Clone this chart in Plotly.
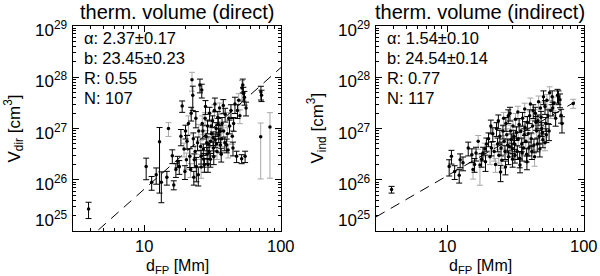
import numpy as np
import plotly.graph_objects as go

# ---------------- data ----------------
# left panel: thermal volume (direct)
d_dir = [3.9, 10.3, 11.3, 12.2, 12.9, 13.3, 14.6, 15.0, 16.0, 16.4,
         17.5, 18.0, 18.9, 19.8, 20.3, 20.5, 21.5, 22.3, 22.6, 22.8,
         23.2, 23.5, 24.0, 24.5, 25.0, 25.5, 26.3, 26.0, 26.5, 27.0,
         27.5, 28.0, 28.3, 28.8, 29.0, 29.5, 30.0, 30.4, 31.0, 31.5,
         32.0, 32.5, 33.0, 33.5, 34.0, 34.5, 35.0, 35.5, 36.0, 37.0,
         38.0, 39.0, 40.0, 41.0, 42.0, 43.0, 44.0, 47.3, 48.0, 49.0,
         51.5, 51.8, 53.0, 54.0, 54.6, 71.3, 72.0, 71.0, 83.0, 21.0,
         22.0, 23.8, 24.8, 25.8, 26.8, 27.8, 28.6, 29.8, 30.8, 31.8,
         32.8, 33.8, 34.8, 35.8, 36.8, 37.8, 38.8, 41.5, 45.0, 46.0,
         50.0, 52.5, 55.5, 19.5, 18.5, 20.0, 17.0, 21.8, 23.0, 26.0,
         27.2, 29.2, 30.5, 32.2, 36.5, 40.5, 44.5]
log_v_dir = [25.43, 26.26, 25.95, 26.10, 26.74, 25.95, 26.05, 27.00, 26.47, 25.90,
             26.36, 26.26, 27.44, 26.16, 26.39, 26.75, 26.46, 27.95, 27.65, 26.80,
             26.39, 26.55, 26.26, 26.72, 26.95, 27.85, 27.75, 26.46, 27.10, 26.60,
             26.30, 27.43, 26.85, 26.50, 27.05, 26.70, 27.30, 26.40, 26.90, 27.15,
             26.62, 27.35, 26.78, 27.00, 26.55, 27.22, 26.88, 27.40, 26.68, 27.10,
             26.95, 27.28, 26.68, 26.58, 27.05, 27.35, 26.85, 26.46, 27.35, 27.55,
             26.41, 27.79, 27.69, 27.61, 26.46, 27.71, 27.65, 26.84, 27.03, 27.10,
             27.30, 27.20, 26.10, 26.65, 26.95, 27.20, 26.72, 26.55, 27.05, 26.82,
             27.48, 26.70, 27.08, 26.95, 26.80, 27.45, 26.72, 27.20, 27.10, 27.48,
             27.25, 27.85, 27.40, 26.60, 26.85, 26.95, 26.20, 26.20, 26.05, 26.25,
             26.40, 26.30, 26.75, 26.45, 26.50, 26.90, 26.62]
err_frac_dir = [0.35, 0.45, 0.3, 0.35, 0.9, 0.6, 0.3, 0.3, 0.3, 0.2,
                0.25, 0.3, 0.25, 0.3, 0.35, 0.3, 0.4, 0.4, 0.5, 0.3,
                0.3, 0.3, 0.5, 0.3, 0.35, 0.3, 0.3, 0.3, 0.4, 0.25,
                0.3, 0.3, 0.3, 0.35, 0.3, 0.3, 0.3, 0.3, 0.3, 0.25,
                0.3, 0.3, 0.3, 0.3, 0.3, 0.3, 0.3, 0.25, 0.3, 0.3,
                0.3, 0.3, 0.3, 0.3, 0.3, 0.3, 0.3, 0.25, 0.3, 0.35,
                0.2, 0.4, 0.3, 0.3, 0.25, 0.3, 0.25, 0.85, 0.9, 0.4,
                0.3, 0.35, 0.4, 0.3, 0.3, 0.3, 0.3, 0.3, 0.3, 0.3,
                0.3, 0.3, 0.3, 0.3, 0.3, 0.3, 0.3, 0.3, 0.3, 0.35,
                0.3, 0.3, 0.3, 0.3, 0.35, 0.3, 0.3, 0.3, 0.3, 0.4,
                0.3, 0.3, 0.25, 0.3, 0.3, 0.3, 0.3]
grey_dir = [0, 0, 0, 0, 0, 0, 0, 1, 0, 0,
            0, 0, 0, 0, 1, 0, 0, 1, 0, 0,
            0, 1, 0, 0, 1, 0, 0, 0, 1, 0,
            0, 0, 1, 0, 0, 1, 0, 0, 1, 0,
            0, 1, 0, 0, 1, 0, 0, 1, 0, 0,
            1, 0, 0, 1, 0, 0, 1, 0, 0, 1,
            0, 1, 0, 0, 0, 0, 0, 1, 1, 1,
            0, 0, 0, 1, 0, 1, 0, 0, 1, 0,
            0, 1, 0, 0, 1, 0, 0, 1, 0, 0,
            1, 0, 0, 1, 0, 0, 0, 1, 0, 1,
            0, 0, 1, 0, 0, 1, 0]

# right panel: thermal volume (indirect)
d_ind = [3.9, 10.3, 10.7, 11.3, 12.2, 12.4, 13.0, 15.1, 15.4, 15.8,
         16.2, 17.3, 17.8, 18.2, 18.8, 19.3, 20.0, 20.5, 21.0, 21.5,
         22.0, 22.9, 23.3, 23.8, 24.2, 24.7, 25.0, 25.5, 26.0, 26.4,
         26.8, 27.2, 27.6, 28.0, 28.7, 29.0, 29.4, 29.8, 30.2, 30.6,
         31.0, 31.5, 32.0, 32.5, 33.0, 33.5, 34.0, 34.5, 35.0, 35.5,
         36.0, 36.5, 37.0, 37.5, 38.0, 38.5, 39.0, 40.0, 41.0, 42.0,
         43.0, 44.0, 45.0, 46.0, 47.0, 48.0, 49.0, 50.0, 51.8, 51.8,
         52.5, 53.5, 54.5, 55.5, 57.0, 58.5, 60.0, 62.0, 64.0, 66.7,
         68.0, 69.0, 83.4, 14.2, 16.8, 19.0, 20.8, 22.5, 23.6, 24.5,
         25.8, 26.6, 27.9, 28.4, 30.0, 31.2, 32.8, 33.8, 35.2, 36.8,
         38.2, 39.5, 40.5, 41.5, 42.5, 43.5, 44.5, 45.5, 46.5, 47.5,
         48.5, 49.5, 50.5, 53.0, 56.0, 59.0, 65.0]
log_v_ind = [25.81, 26.26, 26.46, 26.16, 26.09, 26.39, 26.33, 26.49, 26.20, 26.30,
             26.52, 26.29, 26.40, 26.52, 26.60, 26.70, 26.80, 26.45, 26.62, 26.90,
             26.55, 27.00, 26.70, 26.48, 26.85, 26.62, 26.38, 26.95, 26.75, 26.55,
             27.10, 26.88, 26.68, 26.45, 27.30, 26.95, 26.78, 26.60, 27.05, 26.85,
             26.70, 27.18, 26.92, 26.55, 26.80, 27.08, 26.29, 26.95, 26.70, 27.20,
             26.62, 26.88, 27.02, 26.75, 26.50, 27.12, 26.90, 27.25, 26.80, 27.05,
             26.68, 27.30, 26.95, 27.15, 26.85, 27.40, 27.00, 26.78, 26.72, 27.43,
             27.10, 27.55, 27.25, 26.95, 27.35, 27.62, 27.50, 27.20, 27.65, 27.56,
             27.26, 27.10, 27.49, 26.62, 26.75, 26.35, 27.05, 26.30, 27.15, 26.15,
             27.20, 26.25, 27.25, 26.65, 26.40, 26.48, 27.32, 26.42, 26.52, 27.38,
             26.35, 26.62, 27.48, 26.55, 27.35, 26.45, 27.12, 26.70, 27.52, 26.60,
             27.22, 26.92, 27.62, 26.88, 27.70, 27.40, 27.62]
err_frac_ind = [0.15, 0.35, 0.3, 0.3, 0.3, 0.3, 0.3, 0.3, 0.35, 0.3,
                0.3, 0.6, 0.3, 0.3, 0.3, 0.3, 0.3, 0.3, 0.3, 0.3,
                0.35, 0.3, 0.3, 0.3, 0.3, 0.3, 0.3, 0.3, 0.3, 0.3,
                0.3, 0.3, 0.3, 0.3, 0.3, 0.3, 0.3, 0.3, 0.3, 0.3,
                0.3, 0.3, 0.3, 0.3, 0.3, 0.3, 0.3, 0.3, 0.3, 0.3,
                0.3, 0.3, 0.3, 0.3, 0.3, 0.3, 0.3, 0.3, 0.3, 0.3,
                0.3, 0.3, 0.3, 0.3, 0.3, 0.3, 0.3, 0.3, 0.3, 0.3,
                0.3, 0.3, 0.3, 0.35, 0.3, 0.3, 0.3, 0.3, 0.3, 0.3,
                0.3, 0.35, 0.2, 0.3, 0.3, 0.35, 0.3, 0.3, 0.3, 0.35,
                0.3, 0.3, 0.3, 0.3, 0.3, 0.3, 0.3, 0.35, 0.3, 0.3,
                0.3, 0.3, 0.3, 0.3, 0.3, 0.35, 0.3, 0.3, 0.3, 0.3,
                0.3, 0.3, 0.3, 0.3, 0.3, 0.3, 0.3]
grey_ind = [0, 0, 0, 0, 0, 0, 0, 0, 1, 0,
            0, 1, 0, 0, 1, 0, 0, 1, 0, 0,
            1, 0, 0, 1, 0, 0, 1, 0, 1, 0,
            0, 1, 0, 0, 0, 1, 0, 0, 1, 0,
            0, 1, 0, 0, 1, 0, 0, 1, 0, 0,
            1, 0, 0, 1, 0, 0, 1, 0, 0, 1,
            0, 0, 1, 0, 0, 1, 0, 0, 1, 0,
            0, 1, 0, 0, 1, 0, 1, 0, 0, 0,
            0, 0, 1, 0, 1, 0, 0, 1, 0, 0,
            1, 0, 0, 1, 0, 0, 1, 0, 0, 1,
            0, 0, 1, 0, 0, 1, 0, 0, 1, 0,
            0, 1, 0, 0, 1, 0, 0]

# fit results
fit_dir = dict(alpha=2.37, alpha_err=0.17, b=23.45, b_err=0.23, R=0.55, N=107, d_min=3.0, d_max=100.0)
fit_ind = dict(alpha=1.54, alpha_err=0.10, b=24.54, b_err=0.14, R=0.77, N=117, d_min=3.0, d_max=86.0)

titles = ["therm. volume (direct)", "therm. volume (indirect)"]
ytitles = ["V<sub>dir</sub> [cm<sup>3</sup>]", "V<sub>ind</sub> [cm<sup>3</sup>]"]
xtitle = "d<sub>FP</sub> [Mm]"
x_major = [10, 100]
x_major_text = ["10", "100"]
y_major_exp = [25, 26, 27, 28, 29]

# ---------------- figure ----------------
W, H = 600, 276
FONT = "Liberation Sans, Arial, sans-serif"
GREY = "#a8a8a8"

# panel boxes in pixels
boxes = [(73, 281), (376, 584)]
ytop, ybot = 26, 231

fig = go.Figure()

panels = [
    (d_dir, log_v_dir, err_frac_dir, grey_dir, fit_dir),
    (d_ind, log_v_ind, err_frac_ind, grey_ind, fit_ind),
]

x_minor = [v * m for m in (1, 10) for v in range(2, 10) if 3 <= v * m <= 100]
y_minor = [v * 10.0 ** e for e in range(25, 29) for v in range(2, 10)]

for i, (d, lv, ef, gr, fit) in enumerate(panels):
    xa = "x" if i == 0 else "x2"
    ya = "y" if i == 0 else "y2"
    d = np.array(d)
    v = 10.0 ** np.array(lv)
    ef = np.array(ef)
    gr = np.array(gr, dtype=bool)
    up = v * ef
    lo = v * np.minimum(ef, 0.995)
    for mask, col in ((gr, GREY), (~gr, "black")):
        fig.add_trace(go.Scatter(
            x=d[mask], y=v[mask], mode="markers", xaxis=xa, yaxis=ya,
            marker=dict(color="black", size=3.5),
            error_y=dict(type="data", symmetric=False, array=up[mask],
                         arrayminus=lo[mask], color=col, thickness=1, width=3),
            showlegend=False, hoverinfo="skip"))
    # fit line
    xf = np.logspace(np.log10(fit["d_min"]), np.log10(fit["d_max"]), 50)
    yf = 10.0 ** fit["b"] * xf ** fit["alpha"]
    fig.add_trace(go.Scatter(x=xf, y=yf, mode="lines", xaxis=xa, yaxis=ya,
                             line=dict(color="black", width=1, dash="10px,7px"),
                             showlegend=False, hoverinfo="skip"))

axis_common = dict(
    type="log", showgrid=False, zeroline=False, showline=True, linecolor="black",
    linewidth=1, mirror="allticks", ticks="inside", ticklen=6, tickwidth=1,
    tickcolor="black", showticklabels=False,
)

for i, (x0, x1) in enumerate(boxes):
    sfx = "" if i == 0 else "2"
    fig.update_layout(**{
        "xaxis" + sfx: dict(axis_common, domain=[x0 / W, x1 / W],
                            range=[np.log10(3), 2], anchor="y" + sfx,
                            tickmode="array", tickvals=x_major,
                            minor=dict(tickmode="array", tickvals=x_minor,
                                       ticks="inside", ticklen=3, tickcolor="black")),
        "yaxis" + sfx: dict(axis_common, domain=[1 - ybot / H, 1 - ytop / H],
                            range=[25, 29], anchor="x" + sfx,
                            tickmode="array", tickvals=[10.0 ** e for e in y_major_exp],
                            minor=dict(tickmode="array", tickvals=y_minor,
                                       ticks="inside", ticklen=3, tickcolor="black")),
    })

ann = []
for i, ((x0, x1), fit) in enumerate(zip(boxes, [fit_dir, fit_ind])):
    xa = "x" if i == 0 else "x2"
    ya = "y" if i == 0 else "y2"
    cx = (x0 + x1) / 2
    # title
    ann.append(dict(text=titles[i], x=cx / W, y=1 - 12 / H, xref="paper", yref="paper",
                    showarrow=False, font=dict(size=20), xanchor="center", yanchor="middle"))
    # stats
    lines = [f"\u03b1: {fit['alpha']:.2f}\u00b1{fit['alpha_err']:.2f}",
             f"b: {fit['b']:.2f}\u00b1{fit['b_err']:.2f}",
             f"R: {fit['R']:.2f}",
             f"N: {fit['N']}"]
    for k, t in enumerate(lines):
        ann.append(dict(text=t, x=(x0 + 9) / W, y=1 - (38 + 20 * k) / H,
                        xref="paper", yref="paper", showarrow=False,
                        font=dict(size=16.5), xanchor="left", yanchor="middle"))
    # y tick labels
    for e in y_major_exp:
        ann.append(dict(text=f"10<sup>{e}</sup>", x=(x0 - 3) / W, y=e,
                        xref="paper", yref=ya, showarrow=False,
                        font=dict(size=17), xanchor="right", yanchor="middle",
                        yshift=(12 if e == 25 else -3)))
    # x tick labels
    for xv, xt in zip(x_major, x_major_text):
        ann.append(dict(text=xt, x=np.log10(xv), y=1 - 246 / H, xref=xa, yref="paper",
                        showarrow=False, font=dict(size=16.5), xanchor="center",
                        yanchor="middle"))
    # axis titles
    ann.append(dict(text=xtitle, x=cx / W, y=1 - 266 / H, xref="paper", yref="paper",
                    showarrow=False, font=dict(size=16), xanchor="center", yanchor="middle"))
    ann.append(dict(text=ytitles[i], x=(x0 - 59) / W, y=1 - ((ytop + ybot) / 2) / H,
                    xref="paper", yref="paper", showarrow=False, textangle=-90,
                    font=dict(size=17), xanchor="center", yanchor="middle"))

fig.update_layout(
    width=W, height=H, margin=dict(l=0, r=0, t=0, b=0),
    paper_bgcolor="white", plot_bgcolor="white",
    font=dict(family=FONT, color="black"),
    annotations=ann,
)

fig.write_html("out.html", config={"displayModeBar": False},
               post_script="document.body.style.margin='0px';")
